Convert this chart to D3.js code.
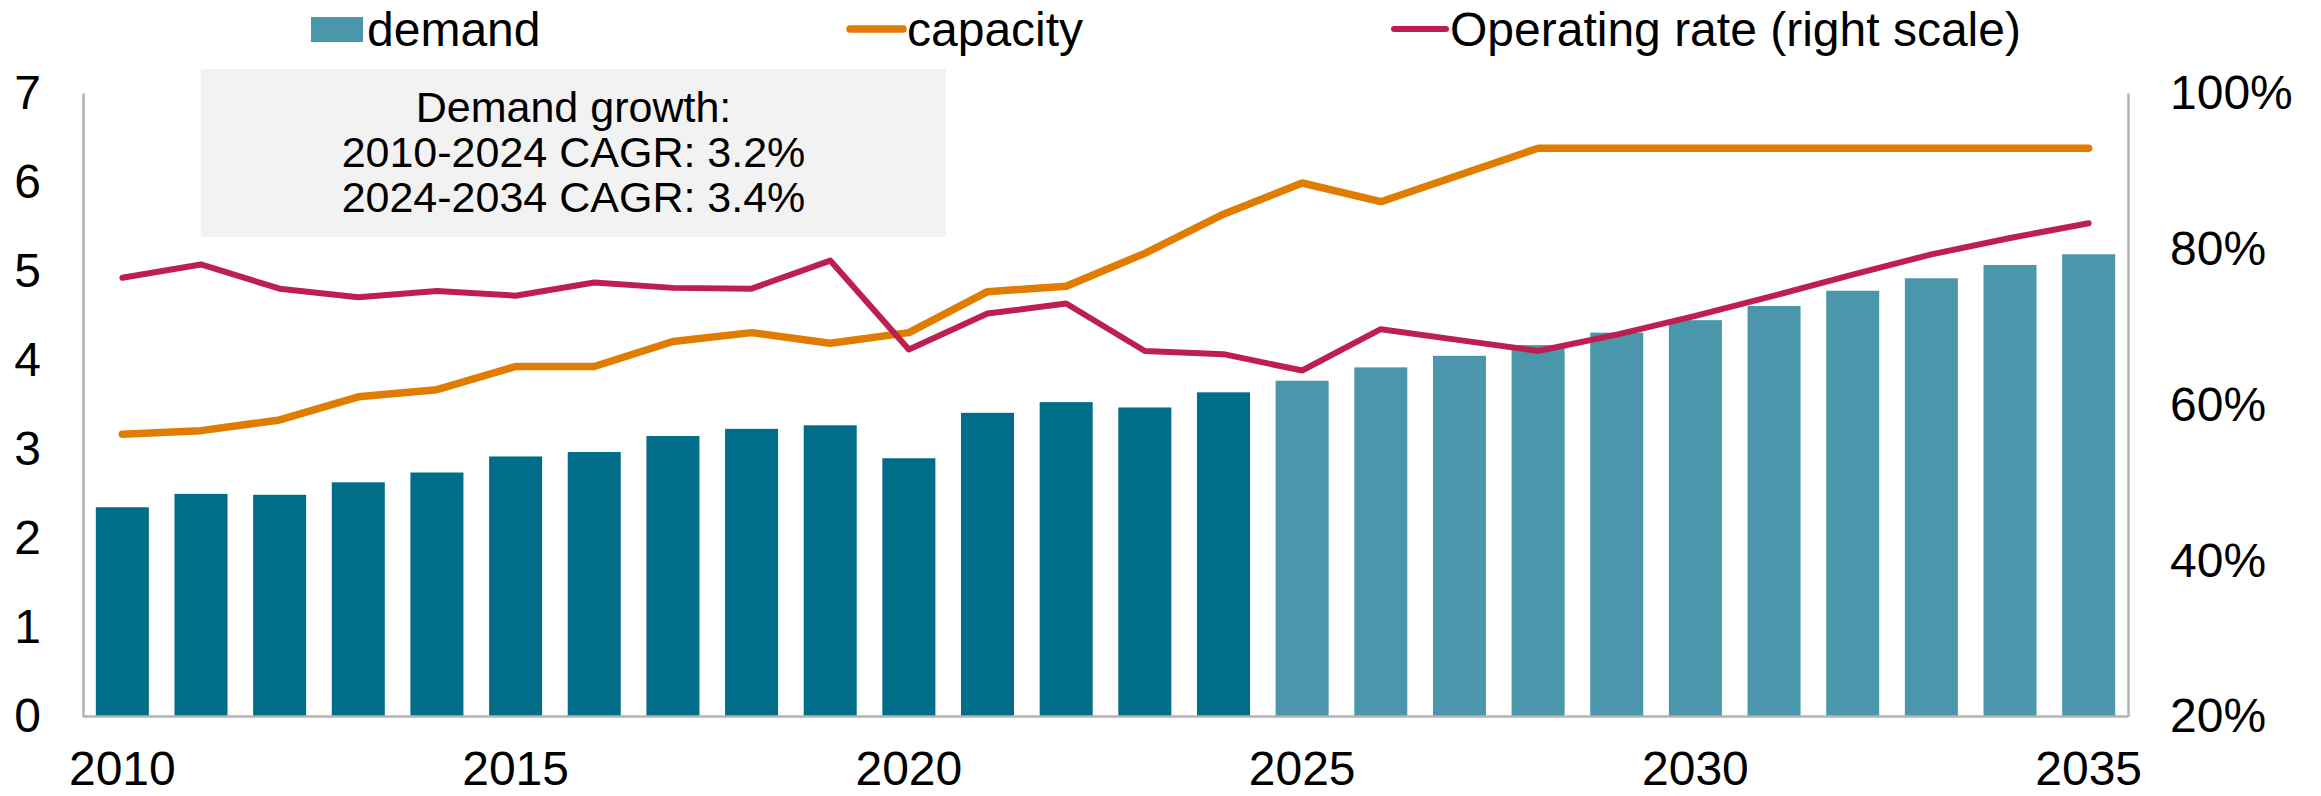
<!DOCTYPE html>
<html>
<head>
<meta charset="utf-8">
<script src="https://cdn.jsdelivr.net/npm/d3@7"></script>
<style>
  html, body { margin: 0; padding: 0; background: #fff; }
  svg { display: block; font-family: "Liberation Sans", Arial, sans-serif; }
</style>
</head>
<body>
<svg id="chart" width="2321" height="796"></svg>
<script>
const years = d3.range(2010, 2036);
const demand = [2.35, 2.50, 2.49, 2.63, 2.74, 2.92, 2.97, 3.15, 3.23, 3.27, 2.90, 3.41, 3.53, 3.47, 3.64,
                3.77, 3.92, 4.05, 4.17, 4.31, 4.45, 4.61, 4.78, 4.92, 5.07, 5.19];
const capacity = [3.17, 3.21, 3.33, 3.59, 3.67, 3.93, 3.93, 4.21, 4.31, 4.19, 4.31, 4.77, 4.83, 5.20, 5.64,
                  5.99, 5.78, 6.08, 6.38, 6.38, 6.38, 6.38, 6.38, 6.38, 6.38, 6.38];
const operatingRate = [76.3, 78.0, 74.9, 73.8, 74.6, 74.0, 75.7, 75.0, 74.9, 78.5, 67.1, 71.7, 73.0, 66.9, 66.5,
                       64.4, 69.7, 68.3, 66.9, 69.0, 71.4, 74.0, 76.7, 79.3, 81.4, 83.3];
const lastActualYear = 2024;
const leftTicks = [0, 1, 2, 3, 4, 5, 6, 7];
const rightTicks = [20, 40, 60, 80, 100];
const xTickYears = [2010, 2015, 2020, 2025, 2030, 2035];
const legendLabels = ["demand", "capacity", "Operating rate (right scale)"];
const noteLines = ["Demand growth:", "2010-2024 CAGR: 3.2%", "2024-2034 CAGR: 3.4%"];

const colors = { actual: "#006e89", forecast: "#4a97ab", capacity: "#e07c00", rate: "#be1f52", axis: "#b3b3b3" };
const font = "Liberation Sans, Arial, sans-serif";
const axisFontSize = 48;

const svg = d3.select("#chart");
const plotLeft = 83, plotRight = 2128, plotTop = 93, plotBottom = 716.6;

const x = d3.scaleBand().domain(years).range([plotLeft, plotRight]).paddingInner(0.326).paddingOuter(0.163);
const y = d3.scaleLinear().domain([0, 7]).range([plotBottom, plotTop]);
const y2 = d3.scaleLinear().domain([20, 100]).range([plotBottom, plotTop]);

// annotation box
const box = svg.append("g");
box.append("rect").attr("x", 201).attr("y", 69).attr("width", 745).attr("height", 168).attr("fill", "#f2f2f2");
box.selectAll("text").data(noteLines).join("text")
  .attr("x", 573.5).attr("y", (d, i) => 122 + i * 45)
  .attr("text-anchor", "middle").attr("font-size", 43).attr("fill", "#000").text(d => d);

// bars
svg.append("g").selectAll("rect").data(years).join("rect")
  .attr("x", d => x(d)).attr("width", x.bandwidth())
  .attr("y", (d, i) => y(demand[i])).attr("height", (d, i) => y(0) - y(demand[i]))
  .attr("fill", d => d <= lastActualYear ? colors.actual : colors.forecast);

// lines
const cx = d => x(d) + x.bandwidth() / 2;
const capLine = d3.line().x((d, i) => cx(years[i])).y(d => y(d));
const rateLine = d3.line().x((d, i) => cx(years[i])).y(d => y2(d));
svg.append("path").datum(capacity).attr("d", capLine).attr("fill", "none")
  .attr("stroke", colors.capacity).attr("stroke-width", 7.5).attr("stroke-linejoin", "round").attr("stroke-linecap", "round");
svg.append("path").datum(operatingRate).attr("d", rateLine).attr("fill", "none")
  .attr("stroke", colors.rate).attr("stroke-width", 6).attr("stroke-linejoin", "round").attr("stroke-linecap", "round");

// axes
const xAxis = svg.append("g").attr("transform", `translate(0,${plotBottom})`)
  .call(d3.axisBottom(x).tickValues(xTickYears).tickSize(0).tickPadding(34));
xAxis.select(".domain").attr("stroke", colors.axis).attr("stroke-width", 2.5).attr("d", `M${plotLeft},0H${plotRight}`);
xAxis.selectAll("text").attr("font-size", axisFontSize).attr("fill", "#000").attr("font-family", font);

const yAxis = svg.append("g").attr("transform", `translate(${plotLeft},0)`)
  .call(d3.axisLeft(y).tickValues(leftTicks).tickSize(0).tickPadding(42).tickFormat(d3.format("d")));
yAxis.select(".domain").attr("stroke", colors.axis).attr("stroke-width", 2.5);
yAxis.selectAll("text").attr("font-size", axisFontSize).attr("fill", "#000").attr("font-family", font);

const y2Axis = svg.append("g").attr("transform", `translate(${plotRight},0)`)
  .call(d3.axisRight(y2).tickValues(rightTicks).tickSize(0).tickPadding(42).tickFormat(d => d + "%"));
y2Axis.select(".domain").attr("stroke", colors.axis).attr("stroke-width", 2.5);
y2Axis.selectAll("text").attr("font-size", axisFontSize).attr("fill", "#000").attr("font-family", font);

// legend
const legend = svg.append("g").attr("font-size", axisFontSize).attr("fill", "#000");
legend.append("rect").attr("x", 311).attr("y", 17).attr("width", 52).attr("height", 25).attr("fill", colors.forecast);
legend.append("text").attr("x", 367).attr("y", 46).text(legendLabels[0]);
legend.append("line").attr("x1", 850).attr("x2", 903).attr("y1", 29).attr("y2", 29)
  .attr("stroke", colors.capacity).attr("stroke-width", 7.5).attr("stroke-linecap", "round");
legend.append("text").attr("x", 907).attr("y", 46).text(legendLabels[1]);
legend.append("line").attr("x1", 1394).attr("x2", 1446).attr("y1", 29).attr("y2", 29)
  .attr("stroke", colors.rate).attr("stroke-width", 6).attr("stroke-linecap", "round");
legend.append("text").attr("x", 1450).attr("y", 46).text(legendLabels[2]);
</script>
</body>
</html>
